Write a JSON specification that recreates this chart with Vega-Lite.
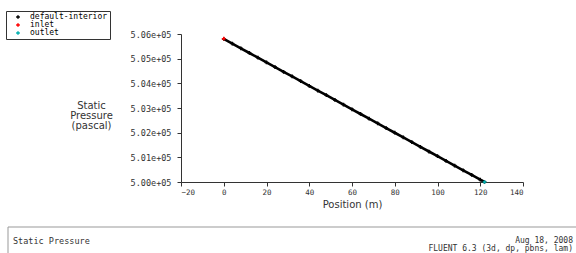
{
  "$schema": "https://vega.github.io/schema/vega-lite/v6.json",
  "padding": {"left": 5, "top": 10, "right": 0, "bottom": 0},
  "background": "white",
  "config": {
    "font": "DejaVu Sans",
    "axis": {"labelFont": "DejaVu Sans Mono", "titleFont": "DejaVu Sans", "labelColor": "#333", "titleColor": "#333", "domainColor": "#333", "tickColor": "#333", "grid": false}
  },
  "spacing": 16,
  "vconcat": [
    {
      "width": 342,
      "height": 148,
      "view": {"stroke": null},
      "data": {"values": [
        {"pos": 0, "p": 505800, "zone": "default-interior"},
        {"pos": 4, "p": 505610, "zone": "default-interior"},
        {"pos": 8, "p": 505420, "zone": "default-interior"},
        {"pos": 12, "p": 505230, "zone": "default-interior"},
        {"pos": 16, "p": 505039, "zone": "default-interior"},
        {"pos": 20, "p": 504849, "zone": "default-interior"},
        {"pos": 24, "p": 504659, "zone": "default-interior"},
        {"pos": 28, "p": 504469, "zone": "default-interior"},
        {"pos": 32, "p": 504279, "zone": "default-interior"},
        {"pos": 36, "p": 504089, "zone": "default-interior"},
        {"pos": 40, "p": 503898, "zone": "default-interior"},
        {"pos": 44, "p": 503708, "zone": "default-interior"},
        {"pos": 48, "p": 503518, "zone": "default-interior"},
        {"pos": 52, "p": 503328, "zone": "default-interior"},
        {"pos": 56, "p": 503138, "zone": "default-interior"},
        {"pos": 60, "p": 502948, "zone": "default-interior"},
        {"pos": 64, "p": 502757, "zone": "default-interior"},
        {"pos": 68, "p": 502567, "zone": "default-interior"},
        {"pos": 72, "p": 502377, "zone": "default-interior"},
        {"pos": 76, "p": 502187, "zone": "default-interior"},
        {"pos": 80, "p": 501997, "zone": "default-interior"},
        {"pos": 84, "p": 501807, "zone": "default-interior"},
        {"pos": 88, "p": 501616, "zone": "default-interior"},
        {"pos": 92, "p": 501426, "zone": "default-interior"},
        {"pos": 96, "p": 501236, "zone": "default-interior"},
        {"pos": 100, "p": 501046, "zone": "default-interior"},
        {"pos": 104, "p": 500856, "zone": "default-interior"},
        {"pos": 108, "p": 500666, "zone": "default-interior"},
        {"pos": 112, "p": 500475, "zone": "default-interior"},
        {"pos": 116, "p": 500285, "zone": "default-interior"},
        {"pos": 120, "p": 500095, "zone": "default-interior"},
        {"pos": 122, "p": 500000, "zone": "default-interior"},
        {"pos": 0, "p": 505810, "zone": "inlet"},
        {"pos": 122, "p": 500000, "zone": "outlet"}
      ]},
      "encoding": {
        "x": {
          "field": "pos", "type": "quantitative",
          "scale": {"domain": [-20, 140], "nice": false, "zero": false},
          "axis": {"values": [-20, 0, 20, 40, 60, 80, 100, 120, 140], "labelFontSize": 7.5, "tickSize": 4, "title": "Position (m)", "titleFontSize": 10, "titleFontWeight": "normal", "titlePadding": 4}
        },
        "y": {
          "field": "p", "type": "quantitative",
          "scale": {"domain": [500000, 506000], "nice": false, "zero": false},
          "axis": {"values": [500000, 501000, 502000, 503000, 504000, 505000, 506000], "labelOverlap": false, "labelExpr": "replace(format(datum.value, '.2e'), 'e+', 'e+0')", "labelFontSize": 8.5, "tickSize": 4, "labelPadding": 6, "title": ["Static", "Pressure", "(pascal)"], "titleFontSize": 10, "titleFontWeight": "normal", "titleAngle": 0, "titleAlign": "center", "titleBaseline": "middle", "titleX": -90, "titleY": 71, "titleLineHeight": 10}
        }
      },
      "layer": [
        {
          "transform": [{"filter": "datum.zone === 'default-interior'"}],
          "mark": {"type": "line", "color": "black", "strokeWidth": 2.6}
        },
        {
          "mark": {"type": "point", "shape": "cross", "filled": true, "size": 14, "opacity": 1},
          "encoding": {
            "color": {
              "field": "zone", "type": "nominal",
              "scale": {"domain": ["default-interior", "inlet", "outlet"], "range": ["black", "red", "#00b0b0"]},
              "legend": {"orient": "none", "legendX": -175, "legendY": -23, "title": null, "strokeColor": "#333", "padding": 2, "labelFont": "DejaVu Sans Mono", "labelFontSize": 8, "symbolSize": 14, "symbolType": "cross", "symbolOffset": 6, "rowPadding": -3, "labelLimit": 140, "symbolStrokeWidth": 0, "labelOffset": 8}
            }
          }
        }
      ]
    },
    {
      "width": 342,
      "height": 30,
      "view": {"stroke": null},
      "data": {"values": [
        {"label": "Static Pressure", "side": "left"},
        {"label": ["Aug 18, 2008", "FLUENT 6.3 (3d, dp, pbns, lam)"], "side": "right"}
      ]},
      "layer": [
        {
          "transform": [{"filter": "datum.side === 'left'"}],
          "mark": {"type": "rect", "fill": null, "stroke": "#999", "strokeWidth": 1},
          "encoding": {
            "x": {"datum": 0, "type": "quantitative", "scale": {"domain": [0, 1], "range": [-173, 400]}, "axis": null},
            "x2": {"datum": 1},
            "y": {"datum": 0, "type": "quantitative", "scale": {"domain": [0, 1], "range": [0, 30]}, "axis": null},
            "y2": {"datum": 1}
          }
        },
        {
          "transform": [{"filter": "datum.side === 'left'"}],
          "mark": {"type": "text", "align": "left", "baseline": "middle", "font": "DejaVu Sans Mono", "fontSize": 8.5, "color": "#333"},
          "encoding": {
            "x": {"datum": 0.0087, "type": "quantitative"},
            "y": {"datum": 0.47, "type": "quantitative"},
            "text": {"field": "label"}
          }
        },
        {
          "transform": [{"filter": "datum.side === 'right'"}],
          "mark": {"type": "text", "align": "right", "baseline": "middle", "font": "DejaVu Sans Mono", "fontSize": 8, "lineHeight": 8, "color": "#333"},
          "encoding": {
            "x": {"datum": 0.986, "type": "quantitative"},
            "y": {"datum": 0.47, "type": "quantitative"},
            "text": {"field": "label"}
          }
        }
      ]
    }
  ]
}
